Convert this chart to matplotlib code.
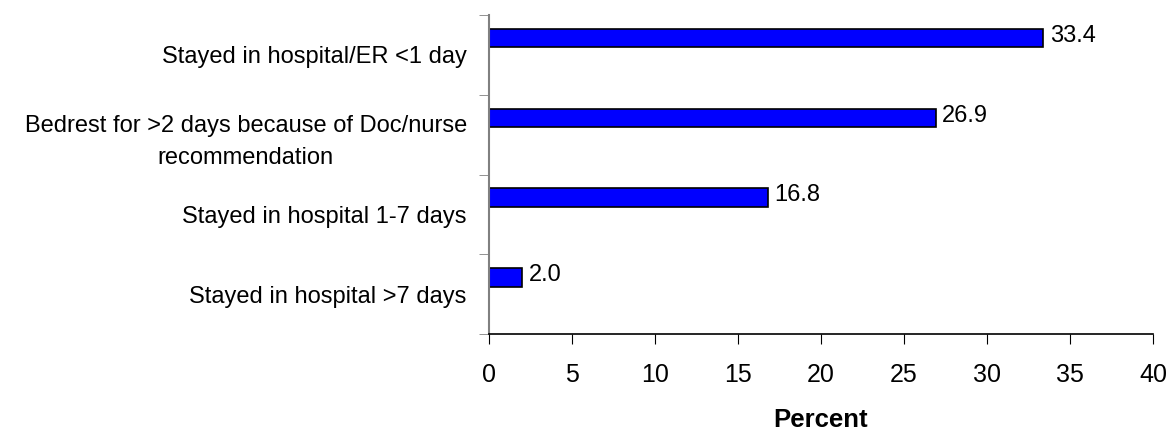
import matplotlib.pyplot as plt
import numpy as np

plt.rcParams['font.family'] = ['Liberation Sans', 'DejaVu Sans']

categories = ["Stayed in hospital/ER <1 day",
              "Bedrest for >2 days because of Doc/nurse\nrecommendation",
              "Stayed in hospital 1-7 days",
              "Stayed in hospital >7 days"]
percent = [33.4, 26.9, 16.8, 2.0]
xticks = [0, 5, 10, 15, 20, 25, 30, 35, 40]

fig = plt.figure(figsize=(11.7, 4.32), dpi=100)
ax = fig.add_axes([0.418, 0.227, 0.5675, 0.738])

# first category on top
pos = np.arange(len(categories))[::-1]
bar_pos = pos + 0.21
ax.barh(bar_pos, percent, height=0.23, color='#0000FF', edgecolor='black', linewidth=1.2)

for y, v in zip(bar_pos, percent):
    ax.text(v + 0.4, y + 0.03, f"{v:.1f}", va='center', ha='left', fontsize=17)

ax.set_xlim(0, 40)
ax.set_ylim(-0.5, len(categories) - 0.5)
ax.set_xticks(xticks)
ax.set_xticklabels([str(t) for t in xticks], fontsize=18)

# category labels between boundary ticks
ax.set_yticks(pos)
ax.set_yticklabels(categories, fontsize=17, ha='right', multialignment='center',
                   linespacing=1.6)
ax.tick_params(axis='y', which='major', length=0, pad=16)
ax.set_yticks(np.arange(len(categories) + 1) - 0.5, minor=True)
ax.tick_params(axis='y', which='minor', length=7, color='#808080')
ax.tick_params(axis='x', length=7, pad=14)

ax.spines['top'].set_visible(False)
ax.spines['right'].set_visible(False)
ax.spines['left'].set_color('#808080')
ax.spines['left'].set_linewidth(1.5)
ax.spines['bottom'].set_linewidth(1.2)

ax.set_xlabel("Percent", fontsize=18.5, fontweight='bold', labelpad=15)

fig.savefig("out.png", dpi=100)
